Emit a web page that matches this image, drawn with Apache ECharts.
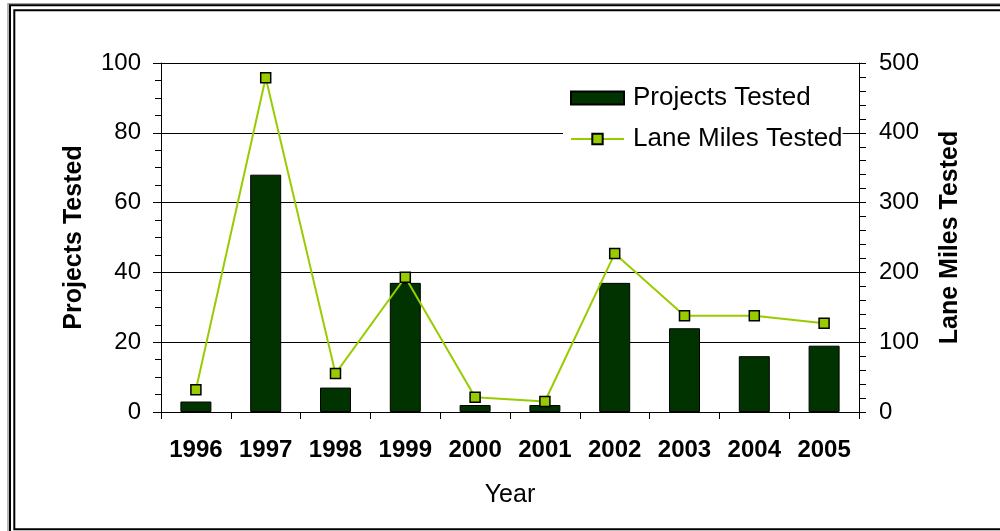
<!DOCTYPE html>
<html>
<head>
<meta charset="utf-8">
<script src="https://cdn.jsdelivr.net/npm/echarts@6/dist/echarts.min.js"></script>
<style>
  html, body { margin: 0; padding: 0; background: #fff; }
  #chart { width: 1000px; height: 531px; }
</style>
</head>
<body>
<div id="chart"></div>
<script>
// Annual testing activity
const years = ['1996', '1997', '1998', '1999', '2000', '2001', '2002', '2003', '2004', '2005'];
const projectsTested = [3, 68, 7, 37, 2, 2, 37, 24, 16, 19];
const laneMilesTested = [32, 479, 55, 193, 21, 15, 227, 138, 138, 127];
const leftTicks = { min: 0, max: 100, interval: 20 };
const rightTicks = { min: 0, max: 500, interval: 100 };

const FONT = '"Liberation Sans", Arial, sans-serif';
const chart = echarts.init(document.getElementById('chart'), null, { renderer: 'canvas' });

chart.setOption({
  animation: false,
  backgroundColor: '#ffffff',
  textStyle: { fontFamily: FONT, color: '#000' },
  graphic: [
    // double frame around the chart
    { type: 'rect', silent: true, z: 100,
      shape: { x: 8, y: 3.8, width: 1100, height: 600 },
      style: { fill: null, stroke: '#a0a0a0', lineWidth: 1.5 } },
    { type: 'rect', silent: true, z: 101,
      shape: { x: 10, y: 5.2, width: 1100, height: 600 },
      style: { fill: null, stroke: '#000', lineWidth: 2 } },
    { type: 'rect', silent: true, z: 101,
      shape: { x: 14.3, y: 10.2, width: 1100, height: 519 },
      style: { fill: null, stroke: '#000', lineWidth: 2 } }
  ],
  grid: { left: 161, right: 141, top: 63, bottom: 119, containLabel: false },
  legend: {
    left: 563, top: 80,
    orient: 'vertical',
    padding: [5, 0, 5, 7],
    backgroundColor: '#ffffff',
    itemWidth: 53, itemHeight: 13, itemGap: 15,
    textStyle: { fontFamily: FONT, fontSize: 26, color: '#000', padding: [0, 0, 0, 4] },
    data: [{ name: 'Projects Tested', icon: 'rect' }, { name: 'Lane Miles Tested' }]
  },
  xAxis: {
    type: 'category',
    data: years,
    boundaryGap: true,
    name: 'Year',
    nameLocation: 'middle',
    nameGap: 71,
    nameTextStyle: { fontFamily: FONT, fontSize: 25, color: '#000' },
    axisLine: { lineStyle: { color: '#000', width: 1 } },
    axisTick: { show: true, alignWithLabel: false, length: 7, lineStyle: { color: '#000' } },
    axisLabel: { margin: 26, fontFamily: FONT, fontSize: 24, fontWeight: 'bold', color: '#000' }
  },
  yAxis: [
    {
      type: 'value',
      position: 'left',
      min: leftTicks.min, max: leftTicks.max, interval: leftTicks.interval,
      name: 'Projects Tested',
      nameLocation: 'middle',
      nameRotate: 90,
      nameGap: 74,
      nameTextStyle: { fontFamily: FONT, fontSize: 25, fontWeight: 'bold', color: '#000' },
      axisLine: { show: true, lineStyle: { color: '#000', width: 1 } },
      axisTick: { show: true, inside: false, length: 8, lineStyle: { color: '#000' } },
      minorTick: { show: true, splitNumber: 4, length: 6, lineStyle: { color: '#000' } },
      axisLabel: { margin: 20, fontFamily: FONT, fontSize: 24, color: '#000' },
      splitLine: { show: true, lineStyle: { color: '#000', width: 1 } }
    },
    {
      type: 'value',
      position: 'right',
      min: rightTicks.min, max: rightTicks.max, interval: rightTicks.interval,
      name: 'Lane Miles Tested',
      nameLocation: 'middle',
      nameRotate: 90,
      nameGap: 79,
      nameTextStyle: { fontFamily: FONT, fontSize: 25, fontWeight: 'bold', color: '#000' },
      axisLine: { show: true, lineStyle: { color: '#000', width: 1 } },
      axisTick: { show: true, inside: false, length: 7, lineStyle: { color: '#000' } },
      minorTick: { show: true, splitNumber: 5, length: 7, lineStyle: { color: '#000' } },
      axisLabel: { margin: 20, fontFamily: FONT, fontSize: 24, color: '#000' },
      splitLine: { show: false }
    }
  ],
  series: [
    {
      name: 'Projects Tested',
      type: 'bar',
      yAxisIndex: 0,
      data: projectsTested,
      barWidth: 31,
      itemStyle: { color: '#003300', borderColor: '#000', borderWidth: 1 },
      z: 2
    },
    {
      name: 'Lane Miles Tested',
      type: 'line',
      yAxisIndex: 1,
      data: laneMilesTested,
      symbol: 'rect',
      symbolSize: 10,
      showAllSymbol: true,
      lineStyle: { color: '#99cc00', width: 2 },
      itemStyle: { color: '#99cc00', borderColor: '#000', borderWidth: 1.5 },
      z: 3
    }
  ]
});
</script>
</body>
</html>
